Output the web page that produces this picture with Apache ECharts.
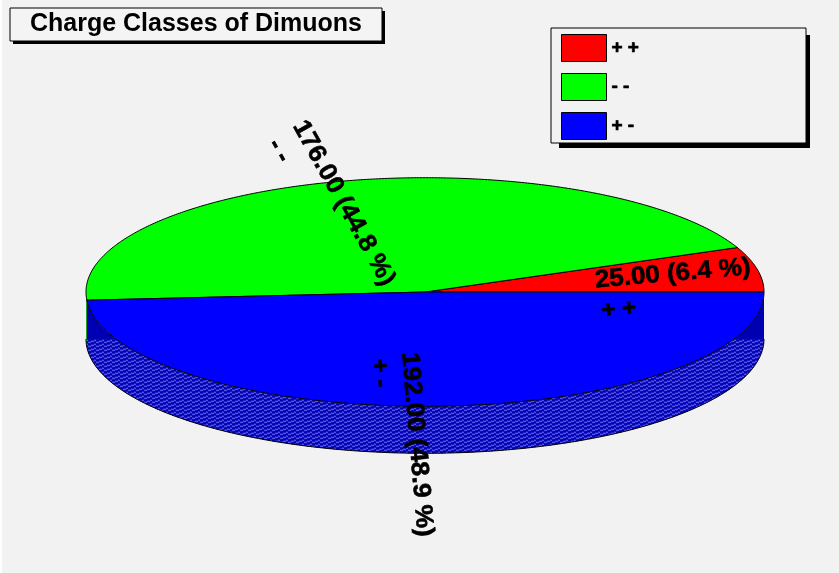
<!DOCTYPE html>
<html>
<head>
<meta charset="utf-8">
<script src="https://cdn.jsdelivr.net/npm/echarts@6/dist/echarts.min.js"></script>
<style>
  html, body { margin: 0; padding: 0; background: #f2f2f2; }
  #chart { width: 839px; height: 573px; }
</style>
</head>
<body>
<div id="chart"></div>
<script>
// Dimuon charge classes
const categories = ['+ +', '- -', '+ -'];
const counts = [25, 176, 192];
const sliceColors = ['#ff0000', '#00ff00', '#0000ff'];

// Pie geometry (tilted disc seen from above)
const DISC = { cx: 425, cy: 292, rx: 339, ry: 114.3, depth: 47 };
// Radial label placement
const LABEL = { radiusX: 0.80, radiusY: 0.80, shiftX: -18, frontDrop: 1.3,
                tilt: 0.43, font: 25, stretch: 1.04, nameGap: 31, nameFont: 23,
                family: '"Liberation Sans", Arial, sans-serif' };

const total = counts.reduce((a, b) => a + b, 0);
const startAngles = [], endAngles = [];
let acc = 0;
counts.forEach(v => {
  startAngles.push(360 * acc / total);
  acc += v;
  endAngles.push(360 * acc / total);
});

function ellipsePoint(deg, drop) {
  const r = deg * Math.PI / 180;
  return [DISC.cx + DISC.rx * Math.cos(r), DISC.cy - DISC.ry * Math.sin(r) + drop];
}
function arcPoints(a0, a1, drop) {
  const pts = [];
  for (let t = a0; t < a1; t += 0.5) pts.push(ellipsePoint(t, drop));
  pts.push(ellipsePoint(a1, drop));
  return pts;
}

function hexToRgb(h) {
  const n = parseInt(h.slice(1), 16);
  return [(n >> 16) & 255, (n >> 8) & 255, n & 255];
}
function mix(c, d, f) { return c.map((v, k) => Math.round(v * (1 - f) + d[k] * f)); }
function rgb(c) { return 'rgb(' + c.join(',') + ')'; }

// Striped texture for the rim of the disc
function rimPattern(hex) {
  const c = hexToRgb(hex);
  const white = [255, 255, 255], black = [0, 0, 0];
  const rows = [
    mix(c, black, 0.30),
    mix(mix(c, white, 0.15), black, 0.20),
    mix(mix(c, white, 0.36), black, 0.10),
    mix(mix(c, white, 0.08), black, 0.25)
  ];
  const cv = document.createElement('canvas');
  cv.width = 8; cv.height = 4;
  const ctx = cv.getContext('2d');
  for (let x = 0; x < 8; x++) {
    for (let y = 0; y < 4; y++) {
      ctx.fillStyle = rgb(rows[(y + Math.floor(x / 3)) % 4]);
      ctx.fillRect(x, y, 1, 1);
    }
  }
  return { image: cv, repeat: 'repeat' };
}

const measureCtx = document.createElement('canvas').getContext('2d');
function textWidth(str, size) {
  measureCtx.font = 'bold ' + size + 'px ' + LABEL.family;
  return measureCtx.measureText(str).width;
}

function valueText(i) {
  return counts[i].toFixed(2) + ' (' + (100 * counts[i] / total).toFixed(1) + ' %)';
}

const seriesData = counts.map((v, i) => ({ name: categories[i], value: v }));

function renderRim(params, api) {
  const i = params.dataIndex;
  const a0 = Math.max(startAngles[i], 180), a1 = Math.min(endAngles[i], 360);
  if (a0 >= a1) return { type: 'group', children: [] };
  const top = arcPoints(a0, a1, 0);
  const bottom = arcPoints(a0, a1, DISC.depth);
  const back = bottom.slice().reverse();
  // upper rim part above the lowest side line stays solid, the rest is textured
  const floorY = DISC.cy + DISC.depth;
  const clampedTop = top.map(p => [p[0], Math.max(p[1], floorY)]);
  return {
    type: 'group',
    children: [
      { type: 'polygon', shape: { points: top.concat(back) },
        style: { fill: rgb(mix(hexToRgb(sliceColors[i]), [0, 0, 0], 0.30)), stroke: null } },
      { type: 'polygon', shape: { points: clampedTop.concat(back) },
        style: { fill: rimPattern(sliceColors[i]), stroke: null } },
      { type: 'polyline', shape: { points: bottom },
        style: { stroke: '#000', lineWidth: 1, fill: null } }
    ]
  };
}

function renderTop(params, api) {
  const i = params.dataIndex;
  const pts = [[DISC.cx, DISC.cy]].concat(arcPoints(startAngles[i], endAngles[i], 0));
  return {
    type: 'polygon',
    shape: { points: pts },
    style: { fill: sliceColors[i], stroke: '#000', lineWidth: 1, lineJoin: 'round' }
  };
}

function renderLabel(params, api) {
  const i = params.dataIndex;
  const mid = (startAngles[i] + endAngles[i]) / 2 * Math.PI / 180;
  const front = Math.sin(mid) < 0 ? DISC.depth * LABEL.frontDrop : 0;
  const ax = DISC.cx + LABEL.radiusX * DISC.rx * Math.cos(mid) + LABEL.shiftX;
  const ay = DISC.cy - LABEL.radiusY * DISC.ry * Math.sin(mid) + front;
  let theta = Math.atan2(-LABEL.tilt * Math.sin(mid), Math.cos(mid));
  if (Math.cos(mid) < 0) theta += Math.PI;
  const txt = valueText(i);
  const w = textWidth(txt, LABEL.font) * LABEL.stretch;
  return {
    type: 'group',
    x: ax, y: ay,
    rotation: -theta,
    children: [
      { type: 'text', scaleX: LABEL.stretch,
        style: { text: txt, fontSize: LABEL.font, fontWeight: 'bold', fontFamily: LABEL.family,
                 fill: '#000', stroke: '#000', lineWidth: 0.6,
                 align: 'center', verticalAlign: 'middle' } },
      { type: 'text', x: -w / 2 + 4, y: LABEL.nameGap, scaleX: LABEL.stretch,
        style: { text: categories[i], fontSize: LABEL.nameFont, fontWeight: 'bold', fontFamily: LABEL.family,
                 fill: '#000', stroke: '#000', lineWidth: 0.8,
                 align: 'left', verticalAlign: 'middle' } }
    ]
  };
}

const chart = echarts.init(document.getElementById('chart'), null, { renderer: 'canvas' });
chart.setOption({
  animation: false,
  backgroundColor: '#f2f2f2',
  color: sliceColors,
  title: {
    text: 'Charge Classes of Dimuons',
    left: 196, top: 12, padding: 0, textAlign: 'center',
    textStyle: { fontSize: 25, fontWeight: 'bold', color: '#000', fontFamily: LABEL.family }
  },
  graphic: [
    { type: 'rect', z: -2, shape: { x: 0, y: 0, width: 2, height: 573 }, style: { fill: '#ffffff' } },
    { type: 'rect', z: -2, shape: { x: 13, y: 11, width: 372, height: 33 }, style: { fill: '#000' } },
    { type: 'rect', z: -1, shape: { x: 10, y: 8, width: 372, height: 33 }, style: { fill: '#f4f4f4', stroke: '#000', lineWidth: 1 } },
    { type: 'rect', z: -2, shape: { x: 559, y: 35, width: 251, height: 113 }, style: { fill: '#000' } },
    { type: 'rect', z: -1, shape: { x: 551, y: 28, width: 255, height: 115 }, style: { fill: '#f2f2f2', stroke: '#000', lineWidth: 1 } }
  ],
  legend: {
    data: categories,
    orient: 'vertical',
    left: 561, top: 34, padding: 0,
    itemWidth: 45, itemHeight: 27, itemGap: 11,
    icon: 'rect',
    selectedMode: false,
    itemStyle: { borderColor: '#000', borderWidth: 1 },
    textStyle: { fontSize: 19, fontWeight: 'bold', color: '#000', fontFamily: LABEL.family,
                 textBorderColor: '#000', textBorderWidth: 0.7 }
  },
  series: [
    // carries the legend entries
    { type: 'pie', radius: [0, 0], center: [-100, -100], silent: true,
      label: { show: false }, labelLine: { show: false }, data: seriesData },
    { type: 'custom', name: 'rim', coordinateSystem: 'none', z: 1, silent: true,
      renderItem: renderRim, data: seriesData },
    { type: 'custom', name: 'top', coordinateSystem: 'none', z: 2, silent: true,
      renderItem: renderTop, data: seriesData },
    { type: 'custom', name: 'labels', coordinateSystem: 'none', z: 3, silent: true,
      renderItem: renderLabel, data: seriesData }
  ]
});
</script>
</body>
</html>
